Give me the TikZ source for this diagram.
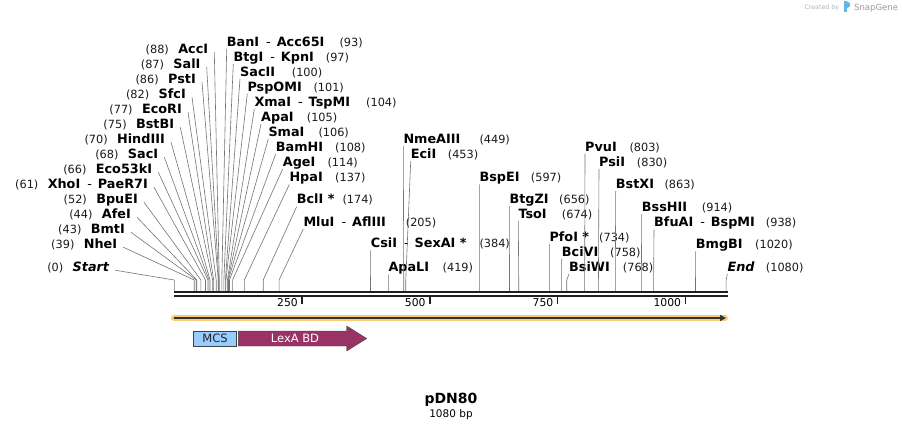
\documentclass[tikz,border=0pt]{standalone}
\usepackage{fontspec}
\setmainfont{DejaVu Sans}
\usetikzlibrary{positioning,arrows.meta}
\definecolor{band}{RGB}{250, 203, 112}
\definecolor{mcsfill}{RGB}{153, 204, 255}
\definecolor{lexfill}{RGB}{153, 51, 102}
\definecolor{logo}{RGB}{96, 184, 232}
\newcommand{\orsep}{\hspace{7pt}{\mdseries -}\hspace{6pt}}
\tikzset{
  enzlab/.style={inner sep=0pt, text height=9pt, text depth=2.5pt, font=\fontsize{12.8}{14}\selectfont\bfseries},
  sitenum/.style={inner sep=0pt, text height=9pt, text depth=2.5pt, font=\fontsize{11.3}{13}\selectfont, text=black!90},
  cutline/.style={draw=black!55, line width=0.6pt},
  ticklab/.style={inner sep=0pt, font=\fontsize{10.8}{12}\selectfont, anchor=base east}
}

\begin{document}
\begin{tikzpicture}[x=1pt, y=-1pt, declare function={bx(\x)=174.3+0.511*\x;}]
  \useasboundingbox (0,0) rectangle (902,430);
  \foreach \p in {0,39,43,44,52,61,66,68,70,75,77,82,86,87,88,93,97,100,101,104,105,106,108,114,137,174,205,384,419,449,453,597,656,674,734,758,768,803,830,863,914,938,1020,1080}
    \coordinate (c\p) at ({bx(\p)},292);

  \node[enzlab, anchor=base east] (s88) at (208.3,53.5) {AccI};
  \node[enzlab, anchor=base east] (s87) at (200.7,68.5) {SalI};
  \node[enzlab, anchor=base east] (s86) at (196,83.5) {PstI};
  \node[enzlab, anchor=base east] (s82) at (186,98.5) {SfcI};
  \node[enzlab, anchor=base east] (s77) at (182,113.5) {EcoRI};
  \node[enzlab, anchor=base east] (s75) at (174.3,128.5) {BstBI};
  \node[enzlab, anchor=base east] (s70) at (165,143.5) {HindIII};
  \node[enzlab, anchor=base east] (s68) at (158.3,158.5) {SacI};
  \node[enzlab, anchor=base east] (s66) at (152.3,173.5) {Eco53kI};
  \node[enzlab, anchor=base east] (s61) at (148,188.5) {XhoI\orsep PaeR7I};
  \node[enzlab, anchor=base east] (s52) at (138,203.5) {BpuEI};
  \node[enzlab, anchor=base east] (s44) at (131,218.5) {AfeI};
  \node[enzlab, anchor=base east] (s43) at (125,233.5) {BmtI};
  \node[enzlab, anchor=base east] (s39) at (117.3,248.5) {NheI};
  \node[enzlab, anchor=base east] (s0) at (109.3,271.5) {\itshape Start};
  \foreach \p in {88,87,86,82,77,75,70,68,66,61,52,44,43,39,0}
    \node[sitenum, anchor=base east] (n\p) at ([xshift=-9pt]s\p.base west) {(\p)};

  \node[enzlab, anchor=base west] (s93) at (226.7,46.2) {BanI\orsep Acc65I};
  \node[enzlab, anchor=base west] (s97) at (233.3,61.2) {BtgI\orsep KpnI};
  \node[enzlab, anchor=base west] (s100) at (240,76.2) {SacII};
  \node[enzlab, anchor=base west] (s101) at (247.3,91.2) {PspOMI};
  \node[enzlab, anchor=base west] (s104) at (254.3,106.2) {XmaI\orsep TspMI};
  \node[enzlab, anchor=base west] (s105) at (261,121.2) {ApaI};
  \node[enzlab, anchor=base west] (s106) at (268.3,136.2) {SmaI};
  \node[enzlab, anchor=base west] (s108) at (275.7,151.2) {BamHI};
  \node[enzlab, anchor=base west] (s114) at (282.7,166.2) {AgeI};
  \node[enzlab, anchor=base west] (s137) at (289.3,181.8) {HpaI};
  \node[enzlab, anchor=base west] (s174) at (296.7,203.8) {BclI *};
  \node[enzlab, anchor=base west] (s205) at (303.3,226.2) {MluI\orsep AflIII};
  \node[enzlab, anchor=base west] (s384) at (370.7,247.8) {CsiI\orsep SexAI *};
  \node[enzlab, anchor=base west] (s419) at (388.3,271.8) {ApaLI};
  \node[enzlab, anchor=base west] (s449) at (403.3,143.5) {NmeAIII};
  \node[enzlab, anchor=base west] (s453) at (410.7,158.5) {EciI};
  \node[enzlab, anchor=base west] (s597) at (479.3,181.8) {BspEI};
  \node[enzlab, anchor=base west] (s656) at (509.3,203.5) {BtgZI};
  \node[enzlab, anchor=base west] (s674) at (518.3,218.5) {TsoI};
  \node[enzlab, anchor=base west] (s734) at (549.3,241.2) {PfoI *};
  \node[enzlab, anchor=base west] (s758) at (561.7,256.2) {BciVI};
  \node[enzlab, anchor=base west] (s768) at (569,271.2) {BsiWI};
  \node[enzlab, anchor=base west] (s803) at (585,151.2) {PvuI};
  \node[enzlab, anchor=base west] (s830) at (599,166.2) {PsiI};
  \node[enzlab, anchor=base west] (s863) at (615.7,188.5) {BstXI};
  \node[enzlab, anchor=base west] (s914) at (641.7,211.8) {BssHII};
  \node[enzlab, anchor=base west] (s938) at (654,226.8) {BfuAI\orsep BspMI};
  \node[enzlab, anchor=base west] (s1020) at (695.7,248.8) {BmgBI};
  \node[enzlab, anchor=base west] (s1080) at (727.3,271.2) {\itshape End};

  \node[sitenum, anchor=base west] (n93) at (339.3,46.2) {(93)};
  \node[sitenum, anchor=base west] (n97) at (325.7,61.2) {(97)};
  \node[sitenum, anchor=base west] (n100) at (291.7,76.2) {(100)};
  \node[sitenum, anchor=base west] (n101) at (313.3,91.2) {(101)};
  \node[sitenum, anchor=base west] (n104) at (366,106.2) {(104)};
  \node[sitenum, anchor=base west] (n105) at (306.7,121.2) {(105)};
  \node[sitenum, anchor=base west] (n106) at (318.3,136.2) {(106)};
  \node[sitenum, anchor=base west] (n108) at (335,151.2) {(108)};
  \node[sitenum, anchor=base west] (n114) at (327.3,166.2) {(114)};
  \node[sitenum, anchor=base west] (n137) at (335,181.8) {(137)};
  \node[sitenum, anchor=base west] (n174) at (342.3,203.8) {(174)};
  \node[sitenum, anchor=base west] (n205) at (405.7,226.2) {(205)};
  \node[sitenum, anchor=base west] (n384) at (479.3,247.8) {(384)};
  \node[sitenum, anchor=base west] (n419) at (442.5,271.8) {(419)};
  \node[sitenum, anchor=base west] (n449) at (479.3,143.5) {(449)};
  \node[sitenum, anchor=base west] (n453) at (447.7,158.5) {(453)};
  \node[sitenum, anchor=base west] (n597) at (530.7,181.8) {(597)};
  \node[sitenum, anchor=base west] (n656) at (559,203.5) {(656)};
  \node[sitenum, anchor=base west] (n674) at (561.7,218.5) {(674)};
  \node[sitenum, anchor=base west] (n734) at (599,241.2) {(734)};
  \node[sitenum, anchor=base west] (n758) at (610,256.2) {(758)};
  \node[sitenum, anchor=base west] (n768) at (622.7,271.2) {(768)};
  \node[sitenum, anchor=base west] (n803) at (629.3,151.2) {(803)};
  \node[sitenum, anchor=base west] (n830) at (636.7,166.2) {(830)};
  \node[sitenum, anchor=base west] (n863) at (664.3,188.5) {(863)};
  \node[sitenum, anchor=base west] (n914) at (701.7,211.8) {(914)};
  \node[sitenum, anchor=base west] (n938) at (765.7,226.8) {(938)};
  \node[sitenum, anchor=base west] (n1020) at (755,248.8) {(1020)};
  \node[sitenum, anchor=base west] (n1080) at (765.7,271.2) {(1080)};

  \foreach \p in {88,87,86,82,77,75,70,68,66,61,52,44,43,39,0}
    \draw[cutline] (c\p) -- ++(0,-12) -- ([xshift=6pt,yshift=-2pt]s\p.east);
  \foreach \p in {93,97,100,101,104,105,106,108,114,137,174,205,384,419,449,453,597,656,674,734,758,768,803,830,863,914,938,1020,1080}
    \draw[cutline] (c\p) -- ++(0,-12) -- (s\p.south west);

  \coordinate (r0) at (174,292);
  \coordinate (r1) at (728,292);
  \draw[line width=2.5pt, black!88] (r0) -- (r1);
  \draw[line width=2pt, black!88] ([yshift=-4.3pt]r0) -- ([yshift=-4.3pt]r1);
  \foreach \t in {250,500,750,1000} {
    \draw[line width=1.5pt, black!88] ({bx(\t)},297) -- ({bx(\t)},304);
    \node[ticklab] (t\t) at ({bx(\t)-4},306) {\t};
  }

  \coordinate (a0) at (174,318);
  \coordinate (a1) at (728,318);
  \draw[band, line width=6pt, line cap=round] (a0) -- ([xshift=-3pt]a1);
  \draw[black!80, line width=2pt, -{Triangle[length=6pt,width=6pt]}] (a0) -- ([xshift=-2pt]a1);

  \node[draw=black!75, fill=mcsfill, minimum width=43.3pt, minimum height=15pt, inner sep=0pt, font=\fontsize{11.5}{13}\selectfont, text=black!85] (mcs) at (215,338.5) {MCS};
  \draw[black!75, fill=lexfill] (238.3,331) -- (346.7,331) -- (346.7,326) -- (366.7,338.5) -- (346.7,351) -- (346.7,346) -- (238.3,346) -- cycle;
  \node[text=white, font=\fontsize{11.5}{13}\selectfont, inner sep=0pt] (lexa) at (295,338.5) {LexA BD};

  \node[font=\fontsize{14}{16}\selectfont\bfseries, anchor=base, inner sep=0pt] (title) at (451,403.5) {pDN80};
  \node[font=\fontsize{10.5}{12}\selectfont, anchor=base, inner sep=0pt] (size) at (451,417.5) {1080 bp};

  \node[font=\fontsize{6.3}{7}\selectfont, text=black!30, anchor=base west, inner sep=0pt] (made) at (804.3,9.5) {Created by};
  \fill[logo] (843.5,1.5) rectangle (846.5,12.5);
  \fill[logo] (847,4.8) circle (3.2pt);
  \node[font=\fontsize{8.5}{10}\selectfont, text=black!40, anchor=base west, inner sep=0pt] (sg) at (854,10.5) {SnapGene};
\end{tikzpicture}
\end{document}
